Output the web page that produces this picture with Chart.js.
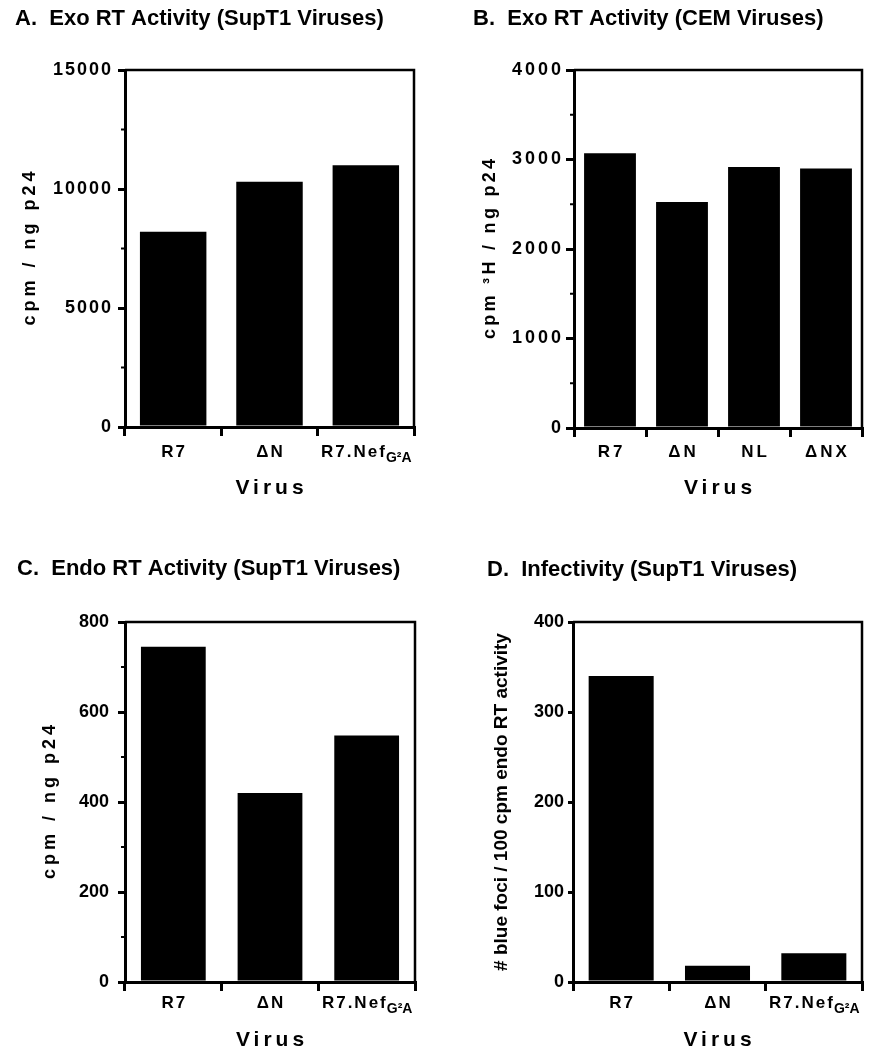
<!DOCTYPE html>
<html lang="en">
<head>
<meta charset="UTF-8">
<title>RT activity and infectivity</title>
<script src="https://cdn.jsdelivr.net/npm/chart.js"></script>
<style>
  body { margin: 0; background: #fff; }
  canvas { position: absolute; }
</style>
</head>
<body>
<canvas id="chartA" style="left:0;top:0" width="434" height="540"></canvas>
<canvas id="chartB" style="left:434px;top:0" width="435" height="540"></canvas>
<canvas id="chartC" style="left:0;top:540px" width="434" height="510"></canvas>
<canvas id="chartD" style="left:434px;top:540px" width="435" height="510"></canvas>

<script>
// categories
const supt1Viruses = ['R7', 'ΔN', 'R7.Nef'];
const supt1Subs = ['', '', 'G²A'];
const cemViruses = ['R7', 'ΔN', 'NL', 'ΔNX'];
const cemSubs = ['', '', '', ''];

// values
const exoSupT1 = [8200, 10300, 11000];
const exoCEM = [3070, 2525, 2915, 2900];
const endoSupT1 = [745, 420, 548];
const infectSupT1 = [340, 18, 32];

// y axis ranges: [max, major step, minor step]
const axisA = [15000, 5000, 2500];
const axisB = [4000, 1000, 500];
const axisC = [800, 200, 100];
const axisD = [400, 100, 0];

const FONT = '"Liberation Sans", Arial, Helvetica, sans-serif';

// draws frame, minor ticks and all the text that needs letter spacing / subscripts
const panelText = {
  id: 'panelText',
  beforeDraw(chart, args, o) {
    chart.ctx.letterSpacing = o.tickSpacing + 'px';
  },
  afterDraw(chart, args, o) {
    const ctx = chart.ctx, a = chart.chartArea;
    const xs = chart.scales.x, ys = chart.scales.y;
    ctx.save();
    ctx.fillStyle = '#000';
    ctx.strokeStyle = '#000';

    ctx.lineWidth = 2.5;
    ctx.beginPath();
    ctx.moveTo(a.left, a.top);
    ctx.lineTo(a.right, a.top);
    ctx.lineTo(a.right, a.bottom);
    ctx.stroke();

    if (o.minor) {
      ctx.lineWidth = 2;
      for (let v = o.minor; v < ys.max; v += o.minor * 2) {
        const py = ys.getPixelForValue(v);
        ctx.beginPath();
        ctx.moveTo(a.left - 4, py);
        ctx.lineTo(a.left, py);
        ctx.stroke();
      }
    }

    // panel title
    ctx.letterSpacing = '0px';
    ctx.font = 'bold 22px ' + FONT;
    ctx.textAlign = 'left';
    ctx.textBaseline = 'alphabetic';
    ctx.fillText(o.title, o.titleX, o.titleY);

    // category labels
    chart.data.labels.forEach((lab, i) => {
      const cx = xs.getPixelForValue(i);
      const sub = o.subs[i];
      ctx.letterSpacing = o.labelSpacing + 'px';
      ctx.font = 'bold 17px ' + FONT;
      const w1 = ctx.measureText(lab).width;
      let w2 = 0;
      if (sub) {
        ctx.letterSpacing = '0px';
        ctx.font = 'bold 14px ' + FONT;
        w2 = ctx.measureText(sub).width;
      }
      const x0 = cx - (w1 + w2) / 2 + o.labelSpacing / 2;
      const by = a.bottom + o.labelDy;
      ctx.letterSpacing = o.labelSpacing + 'px';
      ctx.font = 'bold 17px ' + FONT;
      ctx.fillText(lab, x0, by);
      if (sub) {
        ctx.letterSpacing = '0px';
        ctx.font = 'bold 14px ' + FONT;
        ctx.fillText(sub, x0 + w1 - o.labelSpacing + 1, by + 5);
      }
    });

    // x title
    ctx.letterSpacing = '4px';
    ctx.font = 'bold 21px ' + FONT;
    ctx.textAlign = 'center';
    ctx.textBaseline = 'middle';
    ctx.fillText('Virus', (a.left + a.right) / 2 + 2, a.bottom + o.xTitleDy);

    // y title
    ctx.letterSpacing = o.yTitleSpacing + 'px';
    ctx.font = 'bold ' + o.yTitleSize + 'px ' + FONT;
    ctx.translate(o.yTitleX, (a.top + a.bottom) / 2);
    ctx.rotate(-Math.PI / 2);
    ctx.fillText(o.yTitle, o.yTitleSpacing / 2, 0);
    ctx.restore();
  }
};

function panel(id, labels, subs, values, axis, p) {
  const canvas = document.getElementById(id);
  const W = canvas.width, H = canvas.height;
  return new Chart(canvas, {
    type: 'bar',
    data: {
      labels: labels,
      datasets: [{
        data: values,
        backgroundColor: '#000',
        borderWidth: 0,
        barPercentage: p.bar,
        categoryPercentage: 1
      }]
    },
    options: {
      responsive: false,
      animation: false,
      layout: { padding: { left: 0, top: p.area[1], right: W - p.area[2], bottom: 0 } },
      plugins: {
        legend: { display: false },
        tooltip: { enabled: false },
        panelText: {
          title: p.title, titleX: p.titleX, titleY: p.titleY,
          subs: subs, minor: axis[2],
          tickSpacing: p.tickSpacing,
          labelSpacing: p.labelSpacing, labelDy: p.labelDy, xTitleDy: p.xTitleDy,
          yTitle: p.yTitle, yTitleX: p.yTitleX, yTitleSize: p.yTitleSize, yTitleSpacing: p.yTitleSpacing
        }
      },
      scales: {
        x: {
          grid: { offset: true, drawOnChartArea: false, tickLength: 9, lineWidth: 3, color: '#000' },
          border: { width: 3, color: '#000' },
          ticks: { display: false },
          afterFit: s => { s.height = H - p.area[3]; }
        },
        y: {
          min: 0,
          max: axis[0],
          grid: { drawOnChartArea: false, tickLength: p.tickLen, lineWidth: 3, color: '#000' },
          border: { width: 3, color: '#000' },
          ticks: {
            stepSize: axis[1],
            padding: p.tickPad,
            color: '#000',
            font: { family: FONT, size: p.tickSize, weight: 'bold' },
            callback: v => String(v)
          },
          afterFit: s => { s.width = p.area[0]; }
        }
      }
    },
    plugins: [panelText]
  });
}

panel('chartA', supt1Viruses, supt1Subs, exoSupT1, axisA, {
  area: [125, 70, 414, 427], bar: 0.69,
  title: 'A.  Exo RT Activity (SupT1 Viruses)', titleX: 15, titleY: 25,
  tickSize: 18, tickSpacing: 2, tickLen: 7, tickPad: 5,
  labelSpacing: 2, labelDy: 30, xTitleDy: 61,
  yTitle: 'cpm / ng p24', yTitleX: 30, yTitleSize: 18, yTitleSpacing: 4
});

panel('chartB', cemViruses, cemSubs, exoCEM, axisB, {
  area: [140, 70, 428, 428], bar: 0.72,
  title: 'B.  Exo RT Activity (CEM Viruses)', titleX: 39, titleY: 25,
  tickSize: 18, tickSpacing: 3, tickLen: 8, tickPad: 2,
  labelSpacing: 3, labelDy: 29, xTitleDy: 60,
  yTitle: 'cpm ³H / ng p24', yTitleX: 56, yTitleSize: 18, yTitleSpacing: 3.3
});

panel('chartC', supt1Viruses, supt1Subs, endoSupT1, axisC, {
  area: [125, 82, 415, 442], bar: 0.67,
  title: 'C.  Endo RT Activity (SupT1 Viruses)', titleX: 17, titleY: 35,
  tickSize: 18, tickSpacing: 0, tickLen: 7, tickPad: 9,
  labelSpacing: 2, labelDy: 26, xTitleDy: 58,
  yTitle: 'cpm / ng p24', yTitleX: 50, yTitleSize: 18, yTitleSpacing: 4
});

panel('chartD', supt1Viruses, supt1Subs, infectSupT1, axisD, {
  area: [139, 82, 428, 442], bar: 0.675,
  title: 'D.  Infectivity (SupT1 Viruses)', titleX: 53, titleY: 36,
  tickSize: 18, tickSpacing: 0, tickLen: 5, tickPad: 4,
  labelSpacing: 2, labelDy: 26, xTitleDy: 58,
  yTitle: '# blue foci / 100 cpm endo RT activity', yTitleX: 68, yTitleSize: 19, yTitleSpacing: 0
});
</script>
</body>
</html>
